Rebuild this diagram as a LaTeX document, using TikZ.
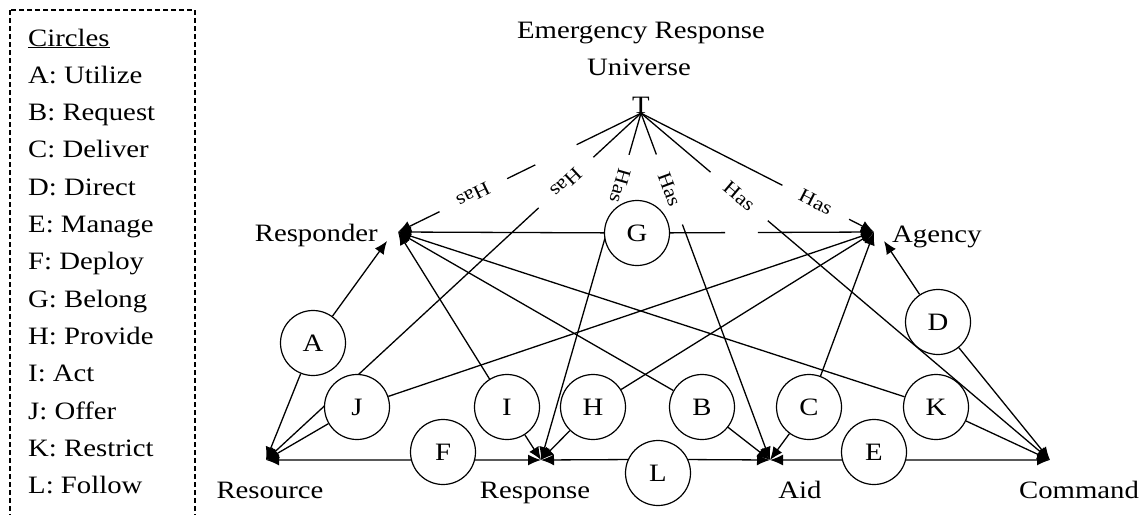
\documentclass[tikz,border=0pt]{standalone}
\usepackage{fontspec}
\setmainfont{Liberation Serif}[FakeStretch=1.15]
\usetikzlibrary{arrows.meta,backgrounds}

\begin{document}
\begin{tikzpicture}[x=1pt,y=-1pt,
  every node/.style={font=\fontsize{25}{29}\selectfont},
  rel/.style={circle,draw,fill=white,line width=1.2pt,minimum size=65pt,inner sep=0pt},
  plain/.style={line width=1.3pt},
  link/.style={plain,-{Latex[length=13pt,width=11pt]}},
  haslabel/.style={sloped,inner sep=0pt,font=\fontsize{19.5}{22}\selectfont},
  entity/.style={inner sep=0pt,anchor=base},
  legend/.style={inner sep=0pt,anchor=base west}]

\useasboundingbox (0,0) rectangle (1147,514);

% legend
\draw[line width=1.1pt,dash pattern=on 5pt off 3pt] (10,10) rectangle (195,540);
\node[legend] (leg0) at (28,46) {\underline{Circles}};
\foreach \t [count=\i] in {A: Utilize,B: Request,C: Deliver,D: Direct,E: Manage,F: Deploy,
  G: Belong,H: Provide,I: Act,J: Offer,K: Restrict,L: Follow}
  \node[legend] (leg\i) at (28,46+37.3*\i) {\t};

% entity arrow points
\coordinate (Rd)  at (398,232);
\coordinate (RdA) at (387,241);
\coordinate (Ag)  at (874,232);
\coordinate (AgD) at (884,241);
\coordinate (Rs)  at (266,460);
\coordinate (Rp)  at (541,460);
\coordinate (Ai)  at (770,460);
\coordinate (Cm)  at (1050,460);

% entity names
\node[entity] (title1) at (641,38) {Emergency Response};
\node[entity] (title2) at (639,75) {Universe};
\node[entity] (T) at (641,113) {T};
\node[entity,anchor=base east] (responder) at (378,241) {Responder};
\node[entity,anchor=base west] (agency) at (892,242) {Agency};
\node[entity] (resource) at (270,498) {Resource};
\node[entity] (response) at (535,498) {Response};
\node[entity] (aid) at (800,498) {Aid};
\node[entity] (command) at (1079,498) {Command};

% relationship circles
\foreach \n/\x/\y in {A/313/343, J/357/407, F/443/452, I/507/407, H/593/407,
  B/702/407, C/809/407, K/936/407, D/938/322, E/874/452, L/658/473, G/637/233}
  \node[rel] (\n) at (\x,\y) {\n};

\begin{scope}[on background layer]
  % "Has" links from the universe, each broken where its label sits
  \path[allow upside down] (T.south) -- (Rd)
    coordinate[pos=0.265] (h1a) coordinate[pos=0.435] (h1b)
    coordinate[pos=0.551] (h1c) coordinate[pos=0.829] (h1d)
    node[haslabel,pos=0.69] (has1) {Has};
  \draw[plain] (T.south) -- (h1a);
  \draw[plain] (h1b) -- (h1c);
  \draw[link] (h1d) -- (Rd);

  \path[allow upside down] (T.south) -- (Rs)
    coordinate[pos=0.127] (h2a) coordinate[pos=0.273] (h2b)
    node[haslabel,pos=0.20] (has2) {Has};
  \draw[plain] (T.south) -- (h2a);
  \draw[link] (h2b) -- (Rs);

  \path[allow upside down] (T.south) -- (Rp)
    coordinate[pos=0.12] (h3a) coordinate[pos=0.30] (h3b)
    node[haslabel,pos=0.21] (has3) {Has};
  \draw[plain] (T.south) -- (h3a);
  \draw[link] (h3b) -- (Rp);

  \path (T.south) -- (Ai)
    coordinate[pos=0.119] (h4a) coordinate[pos=0.321] (h4b)
    node[haslabel,pos=0.22] (has4) {Has};
  \draw[plain] (T.south) -- (h4a);
  \draw[link] (h4b) -- (Ai);

  \path (T.south) -- (Cm)
    coordinate[pos=0.17] (h5a) coordinate[pos=0.31] (h5b)
    node[haslabel,pos=0.24] (has5) {Has};
  \draw[plain] (T.south) -- (h5a);
  \draw[link] (h5b) -- (Cm);

  \path (T.south) -- (Ag)
    coordinate[pos=0.607] (h6a) coordinate[pos=0.893] (h6b)
    node[haslabel,pos=0.75] (has6) {Has};
  \draw[plain] (T.south) -- (h6a);
  \draw[link] (h6b) -- (Ag);

  % relationships
  \draw[link] (A) -- (RdA);  \draw[link] (A) -- (Rs);
  \draw[link] (J) -- (Rs);   \draw[link] (J) -- (Ag);
  \draw[link] (I) -- (Rd);   \draw[link] (I) -- (Rp);
  \draw[link] (H) -- (Rp);   \draw[link] (H) -- (Ag);
  \draw[link] (B) -- (Rd);   \draw[link] (B) -- (Ai);
  \draw[link] (C) -- (Ag);   \draw[link] (C) -- (Ai);
  \draw[link] (K) -- (Rd);   \draw[link] (K) -- (Cm);
  \draw[link] (D) -- (AgD);  \draw[link] (D) -- (Cm);
  \draw[link] (G) -- (Rd);
  \path (G) -- (Ag) coordinate[pos=0.27] (g1) coordinate[pos=0.43] (g2);
  \draw[plain] (G) -- (g1);
  \draw[link] (g2) -- (Ag);
  % the baseline links run level through their circles
  \draw[link] (F.194) -- (Rs);   \draw[link] (F.346) -- (Rp);
  \draw[link] (L.156) -- (Rp);   \draw[link] (L.24)  -- (Ai);
  \draw[link] (E.194) -- (Ai);   \draw[link] (E.346) -- (Cm);
\end{scope}
\end{tikzpicture}
\end{document}
